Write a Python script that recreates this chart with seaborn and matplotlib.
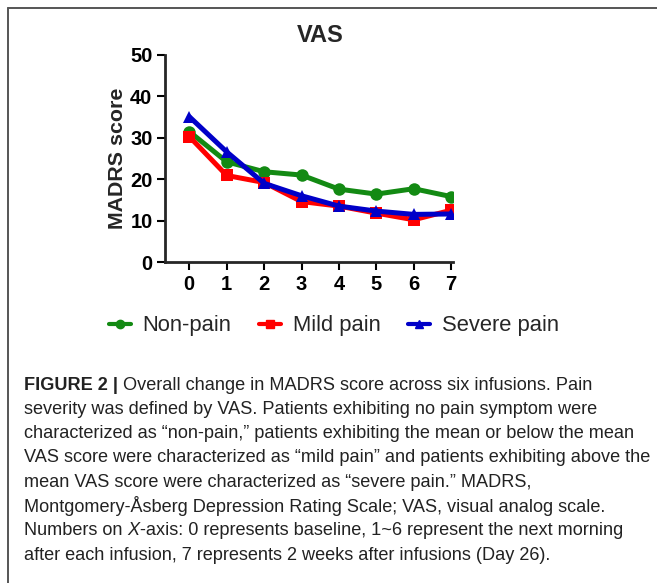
import numpy as np
import pandas as pd
import matplotlib
matplotlib.use("Agg")
import matplotlib.pyplot as plt
import seaborn as sns
from matplotlib.lines import Line2D

sns.set_style("ticks")
plt.rcParams['font.family'] = ['Liberation Sans', 'DejaVu Sans']

# data
timepoints = [0, 1, 2, 3, 4, 5, 6, 7]
non_pain = [31.5, 24.2, 21.8, 21.0, 17.6, 16.4, 17.7, 15.8]
mild_pain = [30.3, 20.9, 19.2, 14.6, 13.5, 11.8, 10.2, 12.5]
severe_pain = [35.1, 26.6, 19.0, 16.0, 13.5, 12.3, 11.5, 11.6]
groups = ['Non-pain', 'Mild pain', 'Severe pain']
colors = ['#138a13', '#ff0000', '#0000c8']
markers = ['o', 's', '^']

caption_lines = [
    [("FIGURE 2 |", "bold"), (" Overall change in MADRS score across six infusions. Pain", "normal")],
    [("severity was defined by VAS. Patients exhibiting no pain symptom were", "normal")],
    [("characterized as \u201cnon-pain,\u201d patients exhibiting the mean or below the mean", "normal")],
    [("VAS score were characterized as \u201cmild pain\u201d and patients exhibiting above the", "normal")],
    [("mean VAS score were characterized as \u201csevere pain.\u201d MADRS,", "normal")],
    [("Montgomery-\u00c5sberg Depression Rating Scale; VAS, visual analog scale.", "normal")],
    [("Numbers on ", "normal"), ("X", "italic"), ("-axis: 0 represents baseline, 1~6 represent the next morning", "normal")],
    [("after each infusion, 7 represents 2 weeks after infusions (Day 26).", "normal")],
]

df = pd.DataFrame({
    'time': timepoints * 3,
    'score': non_pain + mild_pain + severe_pain,
    'group': [g for g in groups for _ in timepoints],
})

W, H = 657, 583
fig = plt.figure(figsize=(W / 100, H / 100), dpi=100)
ax = fig.add_axes([165 / W, 1 - 262 / H, (453 - 165) / W, (262 - 55) / H])

sns.lineplot(data=df, x='time', y='score', hue='group', style='group',
             hue_order=groups, style_order=groups,
             palette=dict(zip(groups, colors)),
             markers=dict(zip(groups, markers)), dashes=False,
             linewidth=3.6, markersize=9, markeredgewidth=0,
             legend=False, ax=ax)

ax.set_xlim(-0.65, 7.05)
ax.set_ylim(0, 50)
ax.set_xticks(timepoints)
ax.set_yticks([0, 10, 20, 30, 40, 50])
sns.despine(ax=ax)
for s in ['left', 'bottom']:
    ax.spines[s].set_linewidth(2.0)
ax.tick_params(width=1.5, length=6, labelsize=14.5, pad=3, colors='black')
for lab in ax.get_xticklabels() + ax.get_yticklabels():
    lab.set_fontweight('bold')
ax.set_xlabel('')
ax.set_ylabel('MADRS score', fontsize=15.4, fontweight='bold', labelpad=2)
fig.text(320 / W, 1 - 35 / H, 'VAS', ha='center', va='center',
         fontsize=17, fontweight='bold')

handles = [Line2D([], [], color=c, marker=m, lw=3, markersize=6)
           for c, m in zip(colors, markers)]
fig.legend(handles, groups, loc='center', bbox_to_anchor=(334 / W, 1 - 326 / H),
           ncol=3, frameon=False, fontsize=15.8, handlelength=1.0,
           handletextpad=0.55, columnspacing=1.25)

# frame lines of the figure panel
fig.add_artist(Line2D([8 / W, 1], [1 - 8 / H, 1 - 8 / H], color='#555555', lw=1.4))
fig.add_artist(Line2D([8 / W, 8 / W], [0, 1 - 8 / H], color='#555555', lw=1.4))

# caption
fig.canvas.draw()
renderer = fig.canvas.get_renderer()
y0 = 385
for i, segs in enumerate(caption_lines):
    x = 24
    for txt, kind in segs:
        t = fig.text(x / W, 1 - (y0 + i * 24.3) / H, txt, ha='left', va='center',
                     fontsize=13.1, color='#222222',
                     fontweight='bold' if kind == 'bold' else 'normal',
                     fontstyle='italic' if kind == 'italic' else 'normal')
        bb = t.get_window_extent(renderer)
        x += bb.width

fig.savefig('out.png', dpi=100)
